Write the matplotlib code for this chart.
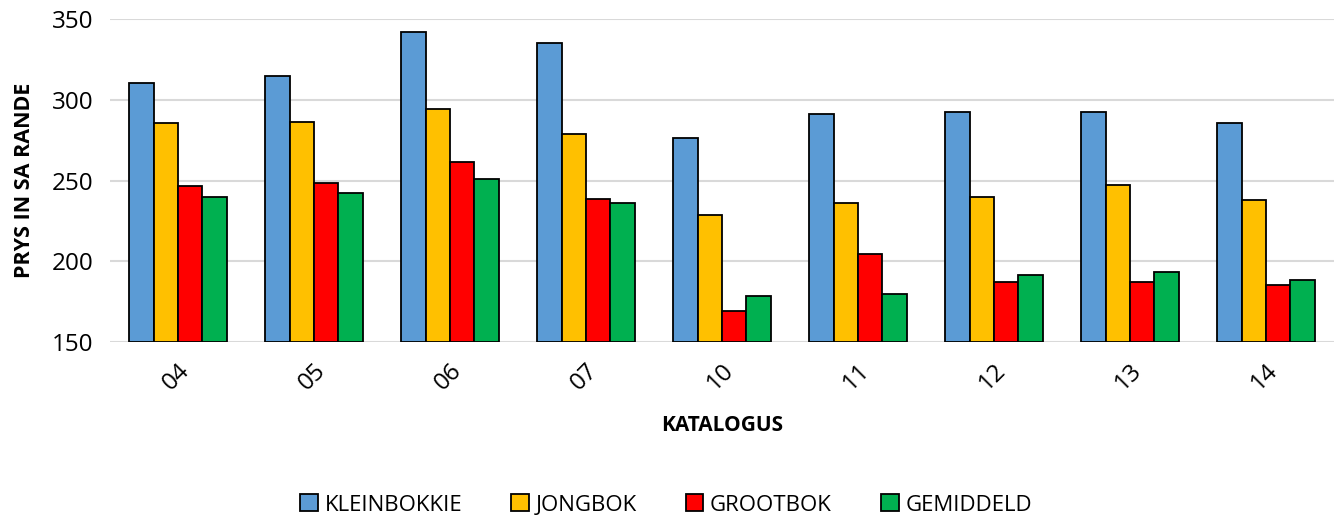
import numpy as np
import matplotlib.pyplot as plt

plt.rcParams['font.family'] = ['Open Sans', 'DejaVu Sans']

# data
katalogus = ['04', '05', '06', '07', '10', '11', '12', '13', '14']
kleinbokkie = [310.4, 314.7, 341.7, 335.3, 276.3, 291.4, 292.6, 292.2, 285.4]
jongbok = [285.8, 286.2, 294.5, 279.0, 228.7, 236.1, 239.9, 247.1, 238.2]
grootbok = [246.9, 248.7, 261.3, 238.4, 169.4, 204.2, 186.9, 187.3, 185.4]
gemiddeld = [239.9, 242.1, 251.0, 236.3, 178.4, 179.9, 191.6, 193.3, 188.5]

reekse = [('KLEINBOKKIE', kleinbokkie, '#5B9BD5'),
          ('JONGBOK', jongbok, '#FFC000'),
          ('GROOTBOK', grootbok, '#FF0000'),
          ('GEMIDDELD', gemiddeld, '#00B050')]

fig = plt.figure(figsize=(13.39, 5.2), dpi=100)
ax = fig.add_axes([110 / 1339, 1 - 342 / 520, 1224 / 1339, 323 / 520])

x = np.arange(len(katalogus))
w = 0.18
for i, (naam, waardes, kleur) in enumerate(reekse):
    ax.bar(x + (i - 1.5) * w, np.array(waardes) - 150, width=w, bottom=150,
           color=kleur, edgecolor='black', linewidth=1.3, label=naam, zorder=3)

ax.set_ylim(150, 350)
ax.set_xlim(-0.5, len(katalogus) - 0.5)
ax.set_yticks([150, 200, 250, 300, 350])
ax.yaxis.grid(True, color='#D9D9D9', linewidth=1.5, zorder=0)
for s in ax.spines.values():
    s.set_visible(False)
ax.tick_params(axis='both', length=0, labelsize=17.5, colors='#000000')
ax.tick_params(axis='y', pad=12)
ax.set_xticks(x)
ax.set_xticklabels(katalogus, rotation=45, ha='right', va='top', rotation_mode='anchor')
ax.tick_params(axis='x', pad=12)

ax.set_xlabel('KATALOGUS', fontsize=15, fontweight='bold', labelpad=14)
ax.set_ylabel('PRYS IN SA RANDE', fontsize=15.5, fontweight='bold', labelpad=12)

fig.legend(loc='center', bbox_to_anchor=(666 / 1339, 1 - 505 / 520), ncol=4,
           frameon=False, fontsize=16, handlelength=0.8, handleheight=0.8,
           handletextpad=0.3, columnspacing=2.2, borderaxespad=0, borderpad=0)

plt.savefig('out.png', dpi=100)
